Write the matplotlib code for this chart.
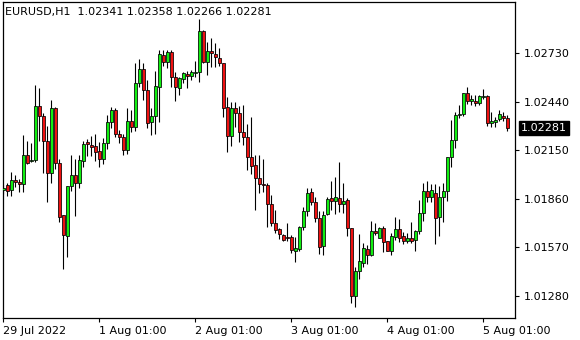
import matplotlib
matplotlib.use("Agg")
import matplotlib.pyplot as plt

# EURUSD H1 candles, 29 Jul 2022 .. 5 Aug 2022
opens = [1.01912, 1.01942, 1.01910, 1.01971, 1.01959, 1.01946, 1.02121, 1.02083, 1.02089, 1.02413,
         1.02353, 1.02202, 1.02015, 1.02399, 1.02075, 1.01761, 1.01639, 1.01937, 1.01999, 1.01955,
         1.02087, 1.02198, 1.02180, 1.02173, 1.02145, 1.02095, 1.02190, 1.02316, 1.02388, 1.02244,
         1.02226, 1.02149, 1.02324, 1.02286, 1.02549, 1.02634, 1.02509, 1.02319, 1.02353, 1.02528,
         1.02718, 1.02674, 1.02737, 1.02585, 1.02522, 1.02573, 1.02602, 1.02594, 1.02613, 1.02618,
         1.02861, 1.02674, 1.02742, 1.02724, 1.02698, 1.02668, 1.02405, 1.02236, 1.02399, 1.02370,
         1.02256, 1.02226, 1.02107, 1.02061, 1.01982, 1.01948, 1.01942, 1.01826, 1.01713, 1.01677,
         1.01643, 1.01633, 1.01629, 1.01549, 1.01558, 1.01693, 1.01788, 1.01902, 1.01842, 1.01743,
         1.01577, 1.01767, 1.01862, 1.01848, 1.01862, 1.01826, 1.01852, 1.01683, 1.01281, 1.01430,
         1.01478, 1.01559, 1.01524, 1.01667, 1.01627, 1.01683, 1.01607, 1.01549, 1.01633, 1.01677,
         1.01637, 1.01609, 1.01623, 1.01613, 1.01667, 1.01773, 1.01906, 1.01872, 1.01892, 1.01749,
         1.01868, 1.01906, 1.02107, 1.02210, 1.02358, 1.02365, 1.02489, 1.02445, 1.02445, 1.02429,
         1.02465, 1.02473, 1.02310, 1.02319, 1.02334, 1.02353, 1.02341]

highs = [1.01942, 1.01952, 1.02019, 1.02001, 1.01977, 1.02240, 1.02206, 1.02194, 1.02539, 1.02522,
         1.02373, 1.02294, 1.02449, 1.02407, 1.02095, 1.01762, 1.01936, 1.02121, 1.02095, 1.02121,
         1.02206, 1.02219, 1.02234, 1.02246, 1.02200, 1.02220, 1.02359, 1.02409, 1.02399, 1.02270,
         1.02246, 1.02399, 1.02389, 1.02668, 1.02694, 1.02668, 1.02568, 1.02403, 1.02622, 1.02748,
         1.02748, 1.02748, 1.02748, 1.02618, 1.02585, 1.02618, 1.02624, 1.02628, 1.02682, 1.02933,
         1.02864, 1.02793, 1.02817, 1.02788, 1.02758, 1.02670, 1.02469, 1.02439, 1.02439, 1.02413,
         1.02419, 1.02306, 1.02346, 1.02121, 1.02121, 1.02095, 1.01952, 1.01882, 1.01792, 1.01683,
         1.01649, 1.01716, 1.01643, 1.01629, 1.01697, 1.01812, 1.01922, 1.01922, 1.01868, 1.01786,
         1.01788, 1.01872, 1.01965, 1.01988, 1.02081, 1.01952, 1.01862, 1.01685, 1.01454, 1.01647,
         1.01594, 1.01583, 1.01727, 1.01713, 1.01693, 1.01697, 1.01609, 1.01653, 1.01749, 1.01737,
         1.01663, 1.01657, 1.01722, 1.01673, 1.01852, 1.01952, 1.01965, 1.01946, 1.01946, 1.01936,
         1.01952, 1.02109, 1.02330, 1.02379, 1.02419, 1.02491, 1.02528, 1.02479, 1.02479, 1.02476,
         1.02513, 1.02479, 1.02376, 1.02349, 1.02389, 1.02376, 1.02358]

lows = [1.01888, 1.01878, 1.01878, 1.01928, 1.01898, 1.01902, 1.02067, 1.02079, 1.02079, 1.02206,
        1.02015, 1.01842, 1.01955, 1.02037, 1.01722, 1.01440, 1.01510, 1.01906, 1.01758, 1.01922,
        1.02051, 1.02115, 1.02116, 1.02085, 1.02047, 1.02069, 1.02155, 1.02284, 1.02228, 1.02194,
        1.02121, 1.02125, 1.02260, 1.02266, 1.02528, 1.02449, 1.02280, 1.02240, 1.02246, 1.02319,
        1.02654, 1.02638, 1.02525, 1.02445, 1.02479, 1.02549, 1.02519, 1.02568, 1.02585, 1.02555,
        1.02667, 1.02598, 1.02648, 1.02648, 1.02654, 1.02349, 1.02140, 1.02176, 1.02290, 1.02200,
        1.02180, 1.02031, 1.02010, 1.01792, 1.01896, 1.01902, 1.01693, 1.01697, 1.01653, 1.01617,
        1.01609, 1.01609, 1.01534, 1.01484, 1.01549, 1.01673, 1.01758, 1.01822, 1.01722, 1.01528,
        1.01524, 1.01762, 1.01792, 1.01768, 1.01782, 1.01773, 1.01639, 1.01235, 1.01211, 1.01380,
        1.01450, 1.01468, 1.01518, 1.01643, 1.01623, 1.01543, 1.01548, 1.01524, 1.01613, 1.01599,
        1.01589, 1.01594, 1.01594, 1.01549, 1.01649, 1.01728, 1.01842, 1.01838, 1.01588, 1.01639,
        1.01719, 1.01848, 1.02047, 1.02164, 1.02340, 1.02353, 1.02425, 1.02419, 1.02413, 1.02419,
        1.02453, 1.02296, 1.02290, 1.02290, 1.02325, 1.02325, 1.02266]

closes = [1.01924, 1.01906, 1.01970, 1.01958, 1.01946, 1.02121, 1.02075, 1.02091, 1.02413, 1.02353,
          1.02207, 1.02015, 1.02399, 1.02075, 1.01752, 1.01645, 1.01934, 1.01999, 1.01955, 1.02091,
          1.02186, 1.02189, 1.02167, 1.02137, 1.02095, 1.02190, 1.02316, 1.02389, 1.02244, 1.02226,
          1.02149, 1.02324, 1.02290, 1.02549, 1.02634, 1.02509, 1.02313, 1.02353, 1.02533, 1.02722,
          1.02678, 1.02737, 1.02585, 1.02528, 1.02579, 1.02608, 1.02592, 1.02614, 1.02616, 1.02861,
          1.02673, 1.02742, 1.02728, 1.02704, 1.02668, 1.02403, 1.02236, 1.02399, 1.02370, 1.02256,
          1.02226, 1.02107, 1.02057, 1.01982, 1.01946, 1.01940, 1.01826, 1.01713, 1.01673, 1.01647,
          1.01613, 1.01625, 1.01554, 1.01564, 1.01693, 1.01788, 1.01896, 1.01842, 1.01746, 1.01573,
          1.01761, 1.01860, 1.01848, 1.01868, 1.01826, 1.01846, 1.01683, 1.01281, 1.01428, 1.01488,
          1.01564, 1.01524, 1.01667, 1.01657, 1.01683, 1.01603, 1.01549, 1.01637, 1.01677, 1.01627,
          1.01609, 1.01623, 1.01609, 1.01667, 1.01773, 1.01906, 1.01872, 1.01912, 1.01743, 1.01868,
          1.01906, 1.02107, 1.02210, 1.02359, 1.02367, 1.02489, 1.02445, 1.02455, 1.02429, 1.02473,
          1.02475, 1.02310, 1.02324, 1.02330, 1.02365, 1.02340, 1.02281]

symbol = "EURUSD,H1"
price_ticks = [1.02730, 1.02440, 1.02150, 1.01860, 1.01570, 1.01280]
time_tick_bars = [0, 24, 48, 72, 96, 120]
time_tick_labels = ["29 Jul 2022", "1 Aug 01:00", "2 Aug 01:00", "3 Aug 01:00",
                    "4 Aug 01:00", "5 Aug 01:00"]

BULL = "#11ee11"
BEAR = "#ee1111"

fig = plt.figure(figsize=(5.8, 3.4), dpi=100, facecolor="white")
ax = fig.add_axes([2.5 / 580, 1 - 318 / 340, (515 - 2.5) / 580, 316 / 340])
ax.set_facecolor("white")

idx = list(range(len(opens)))
ax.vlines(idx, lows, highs, color="black", linewidth=0.8, zorder=2)

bottoms = [min(o, c) for o, c in zip(opens, closes)]
heights = [max(abs(c - o), 0.000015) for o, c in zip(opens, closes)]
colors = [BULL if c >= o else BEAR for o, c in zip(opens, closes)]
ax.bar(idx, heights, bottom=bottoms, width=0.72, color=colors,
       edgecolor="black", linewidth=0.55, zorder=3)

ax.set_xlim(-0.2, 127.9)
ax.set_ylim(1.01148, 1.03034)

ax.yaxis.tick_right()
ax.set_yticks(price_ticks)
ax.set_yticklabels([f"{p:.5f}" for p in price_ticks])
ax.tick_params(axis="y", direction="out", length=3, width=0.8, pad=3,
               labelsize=8, colors="black")

ax.set_xticks(time_tick_bars)
ax.set_xticklabels(time_tick_labels, ha="left")
ax.tick_params(axis="x", direction="out", length=3, width=0.8, pad=3,
               labelsize=8, colors="black")

for spine in ax.spines.values():
    spine.set_color("black")
    spine.set_linewidth(0.9)

# current price marker
last = closes[-1]
ax.text(1.0 + 6 / 512.5, last, f"{last:.5f}", transform=ax.get_yaxis_transform(),
        va="center", ha="left", fontsize=8, color="white",
        bbox=dict(boxstyle="square,pad=0.15", facecolor="black", edgecolor="black"))

fig.text(5 / 580, 1 - 12 / 340,
         f"{symbol}  {opens[-1]:.5f} {highs[-1]:.5f} {lows[-1]:.5f} {closes[-1]:.5f}",
         fontsize=8, color="black", va="center", ha="left")

fig.savefig("out.png", dpi=100, facecolor="white")
